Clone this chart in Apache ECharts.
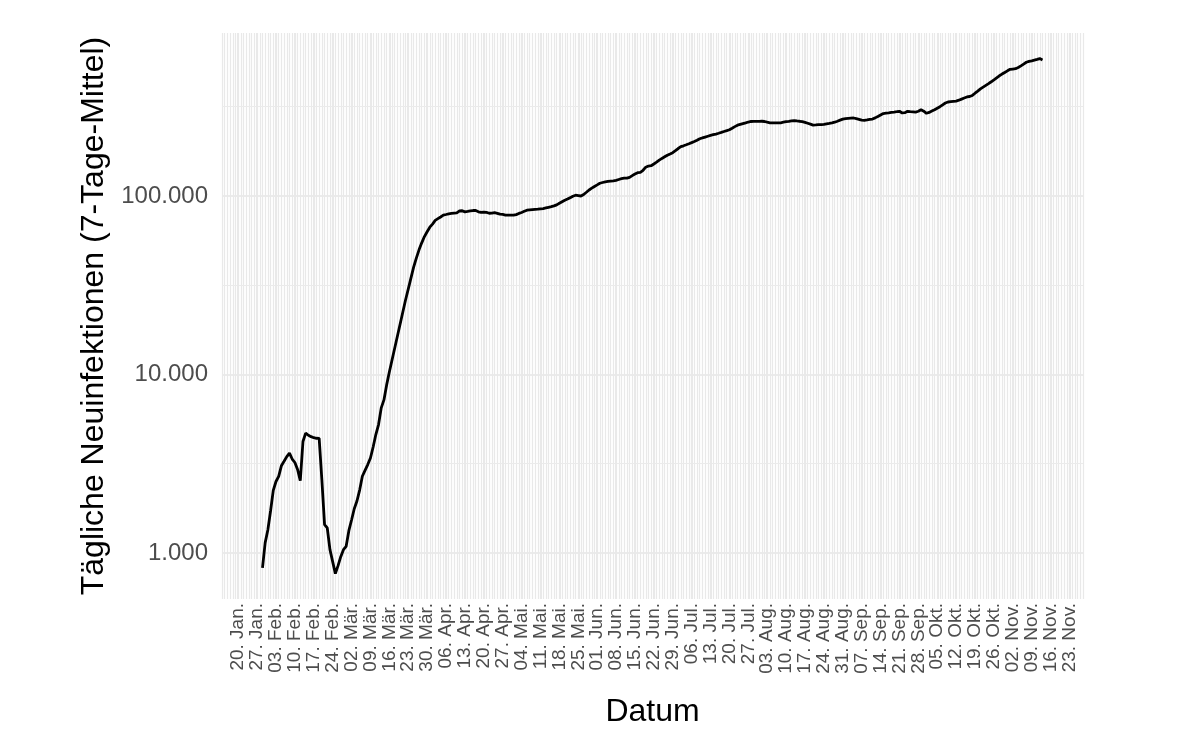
<!DOCTYPE html>
<html>
<head>
<meta charset="utf-8">
<script src="https://cdn.jsdelivr.net/npm/echarts@6/dist/echarts.min.js"></script>
<style>
html,body{margin:0;padding:0;background:#ffffff;}
#chart{width:1200px;height:740px;}
</style>
</head>
<body>
<div id="chart"></div>
<script>
// ---- data ----
const startDate = '2020-01-14';
const endDate = '2020-11-28';
const firstValueDate = '2020-01-29';
const values = [
  824, 1142, 1350, 1724, 2240, 2513, 2685, 3077, 3262, 3463,
  3625, 3358, 3211, 2935, 2537, 4209, 4690, 4563, 4480, 4420,
  4390, 4380, 2570, 1440, 1380, 1043, 894, 766, 849, 953,
  1043, 1089, 1332, 1529, 1769, 1954, 2250, 2689, 2900, 3126,
  3403, 3921, 4606, 5238, 6495, 7200, 8736, 10320, 12050, 14060,
  16410, 19150, 22370, 26120, 30080, 34650, 39930, 44850, 49880, 54600,
  59200, 63040, 66830, 69570, 72950, 74590, 76240, 77990, 78700, 79430,
  79800, 80100, 80300, 82350, 82600, 81400, 81900, 82450, 82850, 82850,
  81500, 80800, 81200, 80800, 80000, 80100, 80600, 79900, 79000, 78800,
  78100, 78000, 78000, 78000, 78600, 79800, 80800, 82000, 83200, 83500,
  83800, 84100, 84300, 84700, 85000, 85700, 86400, 87100, 87900, 89100,
  90900, 92700, 94500, 96000, 97800, 99600, 100900, 100400, 99900, 101900,
  104900, 108000, 110500, 113000, 115300, 117800, 118900, 120000, 120700, 121100,
  121500, 122300, 123600, 124900, 125800, 125800, 127100, 129900, 132700, 134900,
  135700, 139200, 144900, 147000, 147700, 150900, 154500, 158600, 162200, 165600,
  169000, 171800, 174800, 179300, 184300, 188700, 190900, 193400, 196000, 198800,
  201700, 205100, 209100, 211300, 213700, 216000, 218300, 220300, 222200, 224500,
  226900, 229600, 232100, 234800, 239500, 244500, 249000, 251600, 254200, 256800,
  259500, 261200, 261500, 261500, 261800, 262000, 261200, 258800, 256800, 256800,
  256800, 256800, 256800, 258800, 260500, 262000, 263600, 264400, 263100, 262000,
  260500, 258200, 255300, 252400, 249500, 250000, 250700, 251000, 252000, 253600,
  255000, 256600, 258800, 262200, 265800, 269400, 270900, 271900, 272900, 273300,
  270900, 268500, 265800, 265100, 266500, 268100, 269700, 273700, 278700, 284100,
  289400, 290900, 292200, 293700, 294900, 296400, 298000, 291600, 292800, 298000,
  296800, 296000, 294900, 298000, 304000, 298500, 290400, 293700, 298800, 304000,
  310000, 316100, 323900, 331600, 335900, 337200, 338500, 339800, 343800, 348700,
  353700, 358300, 360600, 365500, 376200, 386500, 397700, 406900, 416300, 425800,
  436100, 447400, 459100, 471100, 481600, 491800, 502100, 512000, 514000, 516000,
  523900, 535400, 548100, 561000, 566800, 571300, 576600, 581800, 587900, 577800
];
const firstTickDate = '2020-01-20';
const tickLabels = [
  '20. Jan.', '27. Jan.', '03. Feb.', '10. Feb.', '17. Feb.', '24. Feb.',
  '02. Mär.', '09. Mär.', '16. Mär.', '23. Mär.', '30. Mär.',
  '06. Apr.', '13. Apr.', '20. Apr.', '27. Apr.',
  '04. Mai.', '11. Mai.', '18. Mai.', '25. Mai.',
  '01. Jun.', '08. Jun.', '15. Jun.', '22. Jun.', '29. Jun.',
  '06. Jul.', '13. Jul.', '20. Jul.', '27. Jul.',
  '03. Aug.', '10. Aug.', '17. Aug.', '24. Aug.', '31. Aug.',
  '07. Sep.', '14. Sep.', '21. Sep.', '28. Sep.',
  '05. Okt.', '12. Okt.', '19. Okt.', '26. Okt.',
  '02. Nov.', '09. Nov.', '16. Nov.', '23. Nov.'
];
const majorY = [1000, 10000, 100000];
const minorY = [3162.28, 31622.8, 316228];
const yMin = 552;
const yMax = 818000;
const xTitle = 'Datum';
const yTitle = 'Tägliche Neuinfektionen (7-Tage-Mittel)';

// ---- build ----
function addDays(s, n) {
  const d = new Date(s + 'T00:00:00Z');
  d.setUTCDate(d.getUTCDate() + n);
  return d.toISOString().slice(0, 10);
}
const categories = [];
for (let d = startDate; d <= endDate; d = addDays(d, 1)) categories.push(d);
const valueByDate = {};
values.forEach((v, k) => { valueByDate[addDays(firstValueDate, k)] = v; });
const lineData = categories.map(d => (d in valueByDate ? valueByDate[d] : '-'));
const firstTickIdx = categories.indexOf(firstTickDate);
const tickDates = tickLabels.map((_, k) => categories[firstTickIdx + 7 * k]);
function fmtDE(v) {
  return String(Math.round(v)).replace(/\B(?=(\d{3})+(?!\d))/g, '.');
}
const FONT = '"Liberation Sans", Arial, Helvetica, sans-serif';

const chart = echarts.init(document.getElementById('chart'), null, { renderer: 'canvas' });
chart.setOption({
  animation: false,
  backgroundColor: '#ffffff',
  textStyle: { fontFamily: FONT },
  grid: { left: 222, right: 117, top: 33, bottom: 141, containLabel: false },
  xAxis: {
    type: 'category',
    data: categories,
    boundaryGap: false,
    name: xTitle,
    nameLocation: 'middle',
    nameGap: 97,
    nameTextStyle: { fontSize: 32, color: '#000000', fontFamily: FONT },
    axisLine: { show: false },
    axisTick: { show: false },
    axisLabel: {
      interval: (i) => i >= firstTickIdx && (i - firstTickIdx) % 7 === 0,
      rotate: 90,
      margin: 4,
      fontSize: 19,
      color: '#4D4D4D',
      fontFamily: FONT,
      formatter: (v, i) => tickLabels[(i - firstTickIdx) / 7] || ''
    },
    splitLine: { show: true, interval: 0, lineStyle: { color: '#E9E9E9', width: 1.2 } }
  },
  yAxis: {
    type: 'log',
    logBase: 10,
    min: yMin,
    max: yMax,
    name: yTitle,
    nameLocation: 'middle',
    nameGap: 112,
    nameRotate: 90,
    nameTextStyle: { fontSize: 32, color: '#000000', fontFamily: FONT },
    axisLine: { show: false },
    axisTick: { show: false },
    axisLabel: {
      fontSize: 24,
      color: '#4D4D4D',
      margin: 14,
      fontFamily: FONT,
      showMinLabel: false,
      showMaxLabel: false,
      formatter: (v) => {
        const r = Math.round(v);
        return majorY.indexOf(r) >= 0 ? fmtDE(r) : '';
      }
    },
    splitLine: { show: true, showMinLine: false, showMaxLine: false, lineStyle: { color: '#EBEBEB', width: 2 } }
  },
  series: [
    {
      type: 'line',
      data: [],
      silent: true,
      z: 1,
      markLine: {
        z: 1,
        silent: true,
        animation: false,
        symbol: ['none', 'none'],
        label: { show: false },
        lineStyle: { color: '#EBEBEB', type: 'solid', width: 1 },
        data: minorY.map(v => ({ yAxis: v }))
          .concat(tickDates.map(d => ({ xAxis: d, lineStyle: { color: '#E9E9E9', type: 'solid', width: 2 } })))
      }
    },
    {
      type: 'line',
      data: lineData,
      z: 10,
      showSymbol: false,
      symbol: 'none',
      connectNulls: false,
      lineStyle: { color: '#000000', width: 2.8 }
    }
  ]
});
</script>
</body>
</html>
